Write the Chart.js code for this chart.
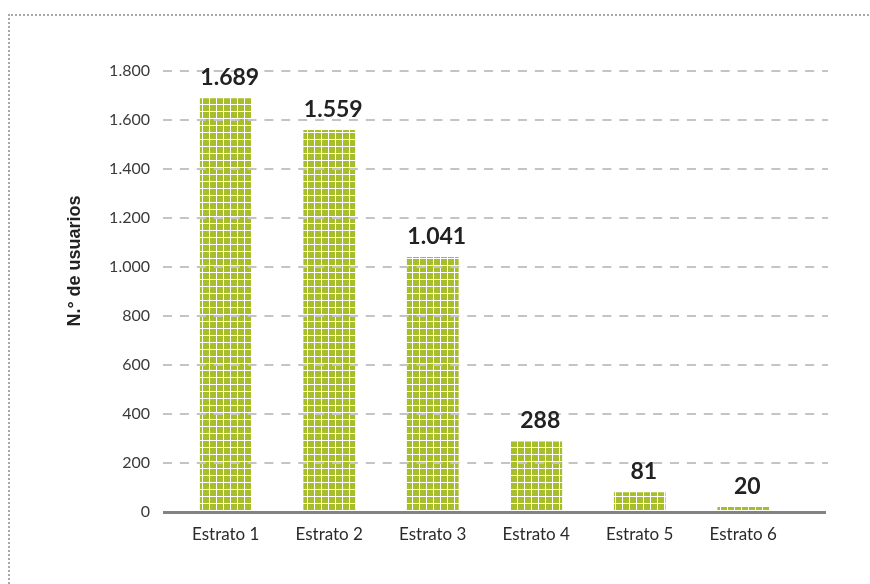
<!DOCTYPE html>
<html>
<head>
<meta charset="utf-8">
<script src="https://cdn.jsdelivr.net/npm/chart.js@4.4.1/dist/chart.umd.min.js"></script>
<style>
  html, body { margin: 0; padding: 0; background: #fff; }
  #wrap { position: relative; width: 870px; height: 584px; overflow: hidden; }
  #frame { position: absolute; left: 8px; top: 14px; width: 950px; height: 700px;
           border-top: 2px dotted #a8a8a8; border-left: 2px dotted #a8a8a8; }
  canvas { position: absolute; left: 0; top: 0; }
</style>
</head>
<body>
<div id="wrap">
  <div id="frame"></div>
  <canvas id="chart" width="870" height="584"></canvas>
</div>
<script>
const categories = ['Estrato 1', 'Estrato 2', 'Estrato 3', 'Estrato 4', 'Estrato 5', 'Estrato 6'];
const usuarios = [1689, 1559, 1041, 288, 81, 20];
const y_ticks = [0, 200, 400, 600, 800, 1000, 1200, 1400, 1600, 1800];
const y_title = 'N.° de usuarios';

function fmt(v) {
    // dot as thousands separator, also for 4 digit numbers
    return String(v).replace(/\B(?=(\d{3})+(?!\d))/g, '.');
}

function make_pattern() {
    // green cells with thin white lines, like the original fill
    const c = document.createElement('canvas');
    c.width = 7; c.height = 7;
    const g = c.getContext('2d');
    g.fillStyle = '#ffffff';
    g.fillRect(0, 0, 7, 7);
    g.fillStyle = '#a7bd2a';
    g.fillRect(0, 0, 6, 6);
    return g.createPattern(c, 'repeat');
}

const grid_and_labels = {
    id: 'grid_and_labels',
    afterDatasetsDraw(chart) {
        const ctx = chart.ctx;
        const area = chart.chartArea;
        const y = chart.scales.y;
        const left = area.left - 11, right = area.right + 33;
        ctx.save();
        ctx.strokeStyle = '#c4c4c4';
        ctx.lineWidth = 2;
        ctx.setLineDash([9, 7.9]);
        y_ticks.forEach((v) => {
            if (v === 0) return;
            const py = Math.round(y.getPixelForValue(v));
            ctx.beginPath();
            ctx.moveTo(left, py);
            ctx.lineTo(right, py);
            ctx.stroke();
        });
        ctx.setLineDash([]);
        ctx.strokeStyle = '#838383';
        ctx.lineWidth = 3;
        const p0 = y.getPixelForValue(0) + 0.5;
        ctx.beginPath();
        ctx.moveTo(left, p0);
        ctx.lineTo(right - 2, p0);
        ctx.stroke();

        // value labels
        ctx.fillStyle = '#222222';
        ctx.font = 'bold 23px Lato';
        ctx.textAlign = 'center';
        ctx.textBaseline = 'alphabetic';
        chart.getDatasetMeta(0).data.forEach((bar, i) => {
            ctx.fillText(fmt(usuarios[i]), bar.x + 4, bar.y - 13);
        });

        // axis title
        ctx.translate(75, 261);
        ctx.rotate(-Math.PI / 2);
        ctx.font = 'bold 18px "Liberation Sans"';
        ctx.textBaseline = 'middle';
        ctx.fillText(y_title, 0, 0);
        ctx.restore();
    }
};

const ctx = document.getElementById('chart');
const chart = new Chart(ctx, {
    type: 'bar',
    data: {
        labels: categories,
        datasets: [{
            data: usuarios,
            backgroundColor: make_pattern(),
            borderWidth: 0,
            barPercentage: 0.5,
            categoryPercentage: 1.0
        }]
    },
    options: {
        responsive: false,
        devicePixelRatio: 1,
        animation: false,
        layout: { padding: { left: 0, right: 75, top: 71, bottom: 32 } },
        plugins: {
            legend: { display: false },
            tooltip: { enabled: false }
        },
        scales: {
            x: {
                grid: { display: false },
                border: { display: false },
                ticks: { color: '#2a2a2a', font: { family: 'Lato', size: 17 }, padding: 4, maxRotation: 0 },
                afterFit: (scale) => { scale.height = 40; }
            },
            y: {
                min: 0,
                max: 1800,
                grid: { display: false },
                border: { display: false },
                ticks: {
                    stepSize: 200,
                    color: '#3a3a3a',
                    font: { family: 'Lato', size: 16 },
                    padding: 16,
                    callback: (v) => fmt(v)
                },
                afterFit: (scale) => { scale.width = 174; }
            }
        }
    },
    plugins: [grid_and_labels]
});
</script>
</body>
</html>
